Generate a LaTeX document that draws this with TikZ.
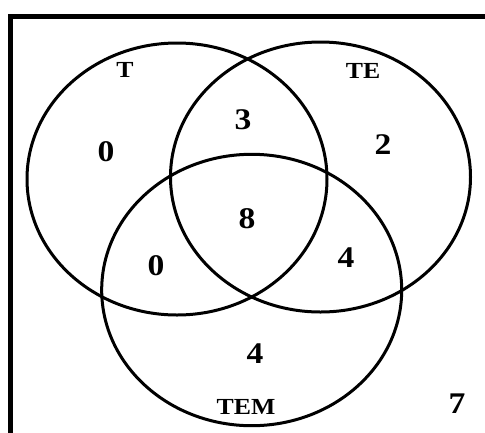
\documentclass[tikz,border=0pt]{standalone}
\usepackage{fontspec}
\setmainfont{Liberation Serif}
\begin{document}
\begin{tikzpicture}[x=1pt,y=-1pt,
  setline/.style={line width=3pt},
  framel/.style={line width=4.5pt},
  num/.style={font=\fontsize{30}{32}\selectfont\bfseries, inner sep=0pt},
  lab/.style={font=\fontsize{23}{25}\selectfont\bfseries, inner sep=0pt}]
\useasboundingbox (0,0) rectangle (485,432);
\coordinate (fa) at (10.5,440);
\coordinate (fb) at (10.5,16.5);
\coordinate (fc) at (490,16.5);
\draw[framel] (fa) -- (fb) -- (fc);
\draw[setline] (177,179) ellipse [x radius=150, y radius=136];
\draw[setline] (320.5,177) ellipse [x radius=150, y radius=135];
\draw[setline] (251.7,290) ellipse [x radius=150, y radius=135.7];
\node[lab] (lT) at (125,70) {\scalebox{1.12}[1]{T}};
\node[lab] (lTE) at (363,71) {\scalebox{1.12}[1]{TE}};
\node[lab] (lTEM) at (246,407) {\scalebox{1.12}[1]{TEM}};
\node[num] (n3) at (243,120) {\scalebox{1.12}[1]{3}};
\node[num] (n0a) at (106,152) {\scalebox{1.12}[1]{0}};
\node[num] (n2) at (383,145) {\scalebox{1.12}[1]{2}};
\node[num] (n8) at (247,219) {\scalebox{1.12}[1]{8}};
\node[num] (n0b) at (156,266) {\scalebox{1.12}[1]{0}};
\node[num] (n4a) at (346,258) {\scalebox{1.12}[1]{4}};
\node[num] (n4b) at (255,354) {\scalebox{1.12}[1]{4}};
\node[num] (n7) at (457,404) {\scalebox{1.12}[1]{7}};
\end{tikzpicture}
\end{document}
